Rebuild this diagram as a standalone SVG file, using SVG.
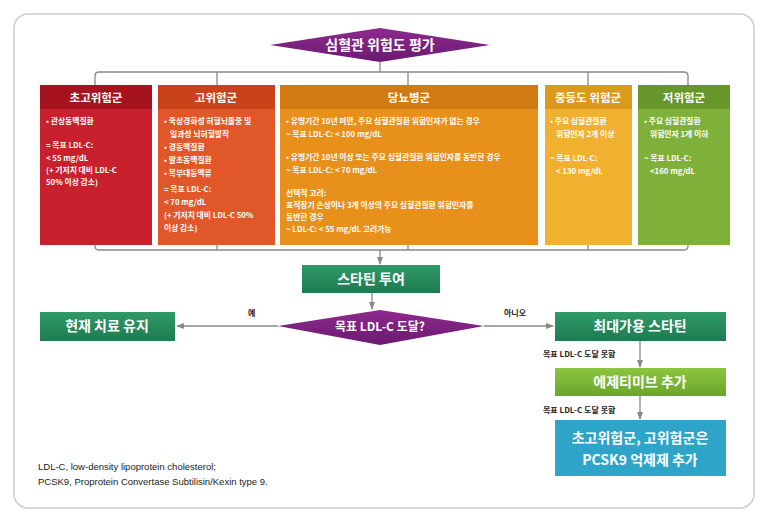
<svg xmlns="http://www.w3.org/2000/svg" width="768" height="527" viewBox="0 0 768 527">
<defs>
<marker id="ar" markerWidth="8" markerHeight="8" refX="7" refY="4" orient="auto" markerUnits="userSpaceOnUse"><path d="M0,1 L8,4 L0,7 Z" fill="#888"/></marker>
<linearGradient id="gg" x1="0" y1="0" x2="0" y2="1"><stop offset="0" stop-color="#2f9a68"/><stop offset="1" stop-color="#1f7a50"/></linearGradient>
<linearGradient id="lg" x1="0" y1="0" x2="0" y2="1"><stop offset="0" stop-color="#8cc63f"/><stop offset="1" stop-color="#6aa52a"/></linearGradient>
<linearGradient id="pg" x1="0" y1="0" x2="0" y2="1"><stop offset="0" stop-color="#8e2a8e"/><stop offset="1" stop-color="#6a1a70"/></linearGradient>
</defs>
<style>
text{font-family:"Noto Sans CJK KR","Noto Sans",sans-serif;}
.h{fill:#fff;font-size:11.5px;font-weight:bold;text-anchor:middle}
.b{fill:#fff;font-size:7.8px;font-weight:bold}
.big{fill:#fff;font-size:14px;font-weight:bold;text-anchor:middle}
.lab{fill:#222;font-size:8px;font-weight:bold}
.ln{stroke:#888;stroke-width:1.3;fill:none}
.foot{fill:#222;font-size:9.5px;font-family:"Liberation Sans",sans-serif}
</style>
<rect x="0" y="0" width="768" height="527" fill="#fff"/>
<rect x="14" y="14" width="740" height="494" rx="14" fill="#fff" stroke="#ccc" stroke-width="1.5"/>
<g id="connectors">
<path class="ln" d="M380,62 V72 M95,85 V76 Q95,72 99,72 H684 Q688,72 688,76 V85 M217,72 V85 M408,72 V85 M588,72 V85"/>
<path class="ln" d="M95,245 V246 Q95,250 99,250 H684 Q688,250 688,246 V245 M217,245 V250 M408,245 V250 M588,245 V250"/>
<path class="ln" d="M380,250 V264" marker-end="url(#ar)"/>
<path class="ln" d="M372,293 V309" marker-end="url(#ar)"/>
<path class="ln" d="M278,326 H177" marker-end="url(#ar)"/>
<path class="ln" d="M484,326 H553" marker-end="url(#ar)"/>
<path class="ln" d="M640,340 V367" marker-end="url(#ar)"/>
<path class="ln" d="M640,396 V419" marker-end="url(#ar)"/>
</g>
<g id="top"><polygon points="270,45 380,28 490,45 380,62" fill="url(#pg)"/><text class="big" x="380" y="50">심혈관 위험도 평가</text></g>
<g id="very-high"><rect x="40" y="85" width="112" height="160" fill="#c8202c"/><rect x="40" y="85" width="112" height="24" fill="#a5141e"/><text class="h" x="96" y="102">초고위험군</text>
<text class="b"><tspan x="46" y="124">• 관상동맥질환</tspan><tspan x="46" y="148">= 목표 LDL-C:</tspan><tspan x="46" y="161">&lt; 55 mg/dL</tspan><tspan x="46" y="173">(+ 기저치 대비 LDL-C</tspan><tspan x="46" y="185">50% 이상 감소)</tspan></text></g>
<g id="high"><rect x="158" y="85" width="117" height="160" fill="#e0582a"/><rect x="158" y="85" width="117" height="24" fill="#c8431a"/><text class="h" x="216" y="102">고위험군</text>
<text class="b"><tspan x="164" y="124">• 죽상경화성 허혈뇌졸중 및</tspan><tspan x="170" y="137">일과성 뇌허혈발작</tspan><tspan x="164" y="150">• 경동맥질환</tspan><tspan x="164" y="163">• 말초동맥질환</tspan><tspan x="164" y="176">• 복부대동맥류</tspan><tspan x="164" y="192">= 목표 LDL-C:</tspan><tspan x="164" y="205">&lt; 70 mg/dL</tspan><tspan x="164" y="218">(+ 기저치 대비 LDL-C 50%</tspan><tspan x="164" y="231">이상 감소)</tspan></text></g>
<g id="diabetes"><rect x="280" y="85" width="258" height="160" fill="#e8901c"/><rect x="280" y="85" width="258" height="24" fill="#d27a12"/><text class="h" x="409" y="102">당뇨병군</text>
<text class="b"><tspan x="286" y="124">• 유병기간 10년 미만, 주요 심혈관질환 위험인자가 없는 경우</tspan><tspan x="286" y="137">~ 목표 LDL-C: &lt; 100 mg/dL</tspan><tspan x="286" y="160">• 유병기간 10년 이상 또는 주요 심혈관질환 위험인자를 동반한 경우</tspan><tspan x="286" y="173">~ 목표 LDL-C: &lt; 70 mg/dL</tspan><tspan x="286" y="196">선택적 고려:</tspan><tspan x="286" y="208">표적장기 손상이나 3개 이상의 주요 심혈관질환 위험인자를</tspan><tspan x="286" y="220">동반한 경우</tspan><tspan x="286" y="232">~ LDL-C: &lt; 55 mg/dL 고려가능</tspan></text></g>
<g id="moderate"><rect x="545" y="85" width="87" height="160" fill="#f0b030"/><rect x="545" y="85" width="87" height="24" fill="#dc9a1c"/><text class="h" x="588" y="102">중등도 위험군</text>
<text class="b"><tspan x="550" y="124">• 주요 심혈관질환</tspan><tspan x="556" y="137">위험인자 2개 이상</tspan><tspan x="550" y="161">~ 목표 LDL-C:</tspan><tspan x="556" y="174">&lt; 130 mg/dL</tspan></text></g>
<g id="low"><rect x="638" y="85" width="92" height="160" fill="#7fb13a"/><rect x="638" y="85" width="92" height="24" fill="#67962a"/><text class="h" x="684" y="102">저위험군</text>
<text class="b"><tspan x="644" y="124">• 주요 심혈관질환</tspan><tspan x="650" y="137">위험인자 1개 이하</tspan><tspan x="644" y="161">~ 목표 LDL-C:</tspan><tspan x="650" y="174">&lt;160 mg/dL</tspan></text></g>
<g id="statin"><rect x="302" y="265" width="138" height="28" fill="url(#gg)"/><text class="big" x="371" y="284">스타틴 투여</text></g>
<g id="decision"><polygon points="278,326 380,310 484,326 380,345" fill="url(#pg)"/><text class="big" x="380" y="331" style="font-size:12px">목표 LDL-C 도달?</text>
<text class="lab" x="248" y="316">예</text><text class="lab" x="504" y="316">아니오</text></g>
<g id="maintain"><rect x="40" y="312" width="135" height="29" fill="url(#gg)"/><text class="big" x="107" y="331">현재 치료 유지</text></g>
<g id="maxstatin"><rect x="555" y="312" width="171" height="29" fill="url(#gg)"/><text class="big" x="640" y="331">최대가용 스타틴</text></g>
<text class="lab" x="543" y="357">목표 LDL-C 도달 못함</text>
<g id="ezetimibe"><rect x="555" y="368" width="171" height="28" fill="url(#lg)"/><text class="big" x="640" y="387">에제티미브 추가</text></g>
<text class="lab" x="543" y="413">목표 LDL-C 도달 못함</text>
<g id="pcsk9"><rect x="555" y="420" width="171" height="56" fill="#2ea5c8"/><text class="big" x="640" y="443">초고위험군, 고위험군은</text><text class="big" x="640" y="465">PCSK9 억제제 추가</text></g>
<text class="foot" x="38" y="470">LDL-C, low-density lipoprotein cholesterol;</text>
<text class="foot" x="38" y="485">PCSK9, Proprotein Convertase Subtilisin/Kexin type 9.</text>
</svg>
